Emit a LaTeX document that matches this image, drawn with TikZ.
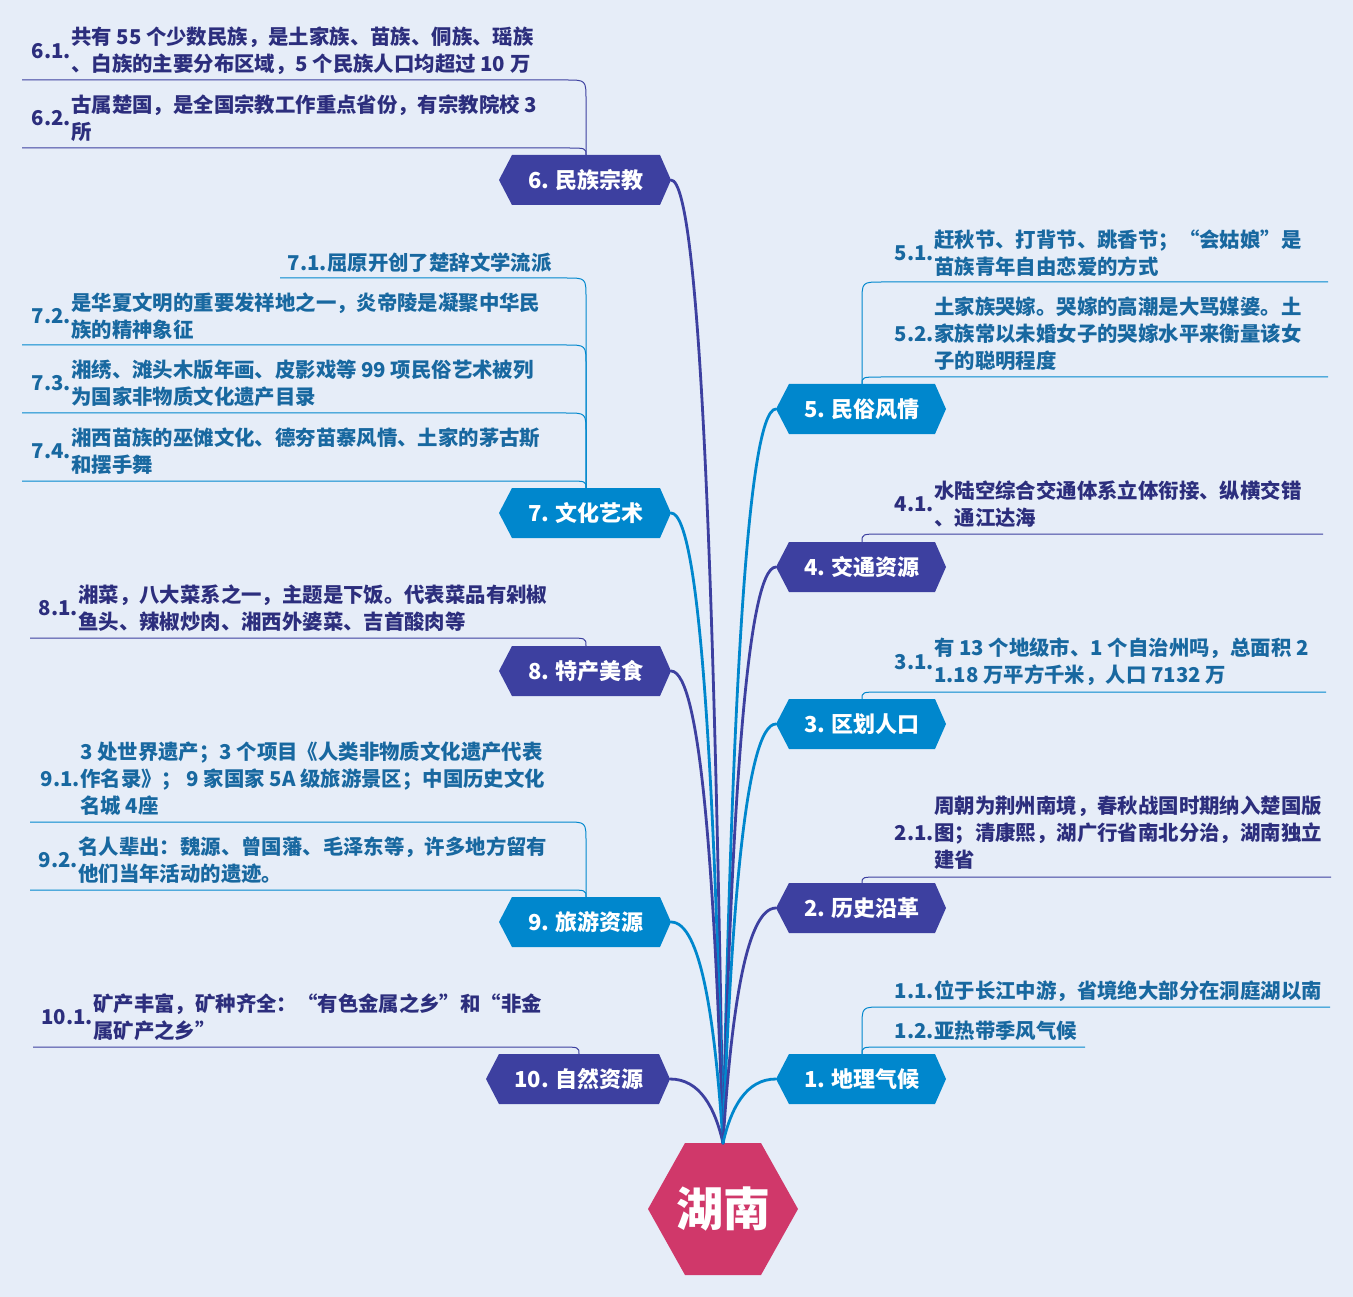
\documentclass[tikz,border=0pt]{standalone}
\usepackage{fontspec}
\setmainfont{Noto Sans CJK SC}
\usetikzlibrary{calc}
\pgfdeclarelayer{bgl}
\pgfsetlayers{bgl,main}
\definecolor{bgc}{RGB}{230,237,248}
\definecolor{dkc}{RGB}{61,64,160}
\definecolor{blc}{RGB}{0,135,205}
\definecolor{dkt}{RGB}{44,46,125}
\definecolor{blt}{RGB}{24,104,160}
\definecolor{pkc}{RGB}{208,56,106}
\tikzset{
  topic/.style={minimum height=50pt, inner sep=0pt, outer sep=0pt, text=white, font={\bfseries\fontsize{22}{26}\selectfont}},
  lbl/.style={inner sep=0pt, anchor=east, font={\bfseries\fontsize{20.4}{27}\selectfont}},
  body/.style={inner sep=0pt, anchor=west, align=left, font={\bfseries\fontsize{20.4}{27}\selectfont}},
  sd/.style={draw=dkc, line width=1pt},
  sb/.style={draw=blc, line width=1pt},
  cd/.style={draw=dkc, line width=2.8pt, line cap=round},
  cb/.style={draw=blc, line width=2.8pt, line cap=round},
}
\newcommand\topicnode[6]{%
  \node[topic, minimum width=#4pt] (#1) at (#2,#3) {#6};
  \coordinate (#1L) at ($(#1.west)+(-13,0)$);
  \coordinate (#1R) at ($(#1.east)+(11,0)$);
  \begin{pgfonlayer}{bgl}
  \fill[#5] (#1L) -- (#1.north west) -- (#1.north east) -- (#1R) -- (#1.south east) -- (#1.south west) -- cycle;
  \end{pgfonlayer}}
\newcommand\subtext[6]{%
  \node[lbl, text=#6] (#1n) at (#2,#3) {#4};
  \node[body, text=#6] (#1) at (#2,#3) {#5};}
\newcommand\subLl[3]{\draw[#1] (#2.north) -- ($(#2.north |- #3)+(0,20)$) .. controls (#2.north |- #3) .. ($(#2.north |- #3)+(-20,0)$) -- (#3);}
\newcommand\subLs[3]{\draw[#1] (#2.north) .. controls (#2.north |- #3) .. ($(#2.north |- #3)+(-20,0)$) -- (#3);}
\newcommand\subRl[3]{\draw[#1] (#2.north) -- ($(#2.north |- #3)+(0,20)$) .. controls (#2.north |- #3) .. ($(#2.north |- #3)+(20,0)$) -- (#3);}
\newcommand\subRs[3]{\draw[#1] (#2.north) .. controls (#2.north |- #3) .. ($(#2.north |- #3)+(20,0)$) -- (#3);}
\begin{document}
\begin{tikzpicture}[x=1pt, y=-1pt]
\useasboundingbox (0,0) rectangle (1353,1297);
\begin{pgfonlayer}{bgl}
\fill[bgc] (0,0) rectangle (1353,1297);
\end{pgfonlayer}

% centre
\node[inner sep=0pt, outer sep=0pt, minimum width=150pt, minimum height=132pt, text=white, font={\bfseries\fontsize{47}{50}\selectfont}] (c) at (723,1209) {湖南};
\begin{pgfonlayer}{bgl}
\fill[pkc] (c.west) -- ($(c.north west)+(37,0)$) -- ($(c.north east)+(-37,0)$) -- (c.east) -- ($(c.south east)+(-37,0)$) -- ($(c.south west)+(37,0)$) -- cycle;
\end{pgfonlayer}

% topics
\topicnode{n6}{586}{180}{148}{dkc}{6. 民族宗教}
\topicnode{n7}{586}{513}{148}{blc}{7. 文化艺术}
\topicnode{n8}{586}{671}{148}{dkc}{8. 特产美食}
\topicnode{n9}{586}{922}{148}{blc}{9. 旅游资源}
\topicnode{n10}{579}{1079}{160}{dkc}{10. 自然资源}
\topicnode{n5}{862}{409}{146}{blc}{5. 民俗风情}
\topicnode{n4}{862}{567}{146}{dkc}{4. 交通资源}
\topicnode{n3}{862}{724}{146}{blc}{3. 区划人口}
\topicnode{n2}{862}{908}{146}{dkc}{2. 历史沿革}
\topicnode{n1}{862}{1079}{146}{blc}{1. 地理气候}

% main connectors
\draw[cd] (n6R) .. controls +(30,0) and +(-8,-530) .. (c.north);
\draw[cb] (n7R) .. controls +(30,0) and +(-8,-346) .. (c.north);
\draw[cd] (n8R) .. controls +(30,0) and +(-8,-260) .. (c.north);
\draw[cb] (n9R) .. controls +(30,0) and +(-8,-122) .. (c.north);
\draw[cd] (n10R) .. controls +(30,0) and +(-8,-35) .. (c.north);
\draw[cb] (n5L) .. controls +(-30,0) and +(8,-404) .. (c.north);
\draw[cd] (n4L) .. controls +(-30,0) and +(8,-317) .. (c.north);
\draw[cb] (n3L) .. controls +(-30,0) and +(8,-230) .. (c.north);
\draw[cd] (n2L) .. controls +(-30,0) and +(8,-129) .. (c.north);
\draw[cb] (n1L) .. controls +(-30,0) and +(8,-35) .. (c.north);

% subtopic texts
\subtext{t61}{71}{51}{6.1.}{共有 55 个少数民族，是土家族、苗族、侗族、瑶族\\、白族的主要分布区域，5 个民族人口均超过 10 万}{dkt}
\subtext{t62}{71}{118}{6.2.}{古属楚国，是全国宗教工作重点省份，有宗教院校 3\\所}{dkt}
\subtext{t71}{327}{263}{7.1.}{屈原开创了楚辞文学流派}{blt}
\subtext{t72}{71}{316}{7.2.}{是华夏文明的重要发祥地之一，炎帝陵是凝聚中华民\\族的精神象征}{blt}
\subtext{t73}{71}{383}{7.3.}{湘绣、滩头木版年画、皮影戏等 99 项民俗艺术被列\\为国家非物质文化遗产目录}{blt}
\subtext{t74}{71}{451}{7.4.}{湘西苗族的巫傩文化、德夯苗寨风情、土家的茅古斯\\和摆手舞}{blt}
\subtext{t81}{78}{608}{8.1.}{湘菜，八大菜系之一，主题是下饭。代表菜品有剁椒\\鱼头、辣椒炒肉、湘西外婆菜、吉首酸肉等}{dkt}
\subtext{t91}{80}{779}{9.1.}{3 处世界遗产；3 个项目《人类非物质文化遗产代表\\作名录》； 9 家国家 5A 级旅游景区；中国历史文化\\名城 4座}{blt}
\subtext{t92}{78}{860}{9.2.}{名人辈出：魏源、曾国藩、毛泽东等，许多地方留有\\他们当年活动的遗迹。}{blt}
\subtext{t101}{93}{1017}{10.1.}{矿产丰富，矿种齐全：“有色金属之乡”和“非金\\属矿产之乡”}{dkt}
\subtext{t51}{934}{253}{5.1.}{赶秋节、打背节、跳香节；“会姑娘”是\\苗族青年自由恋爱的方式}{blt}
\subtext{t52}{934}{334}{5.2.}{土家族哭嫁。哭嫁的高潮是大骂媒婆。土\\家族常以未婚女子的哭嫁水平来衡量该女\\子的聪明程度}{blt}
\subtext{t41}{934}{504}{4.1.}{水陆空综合交通体系立体衔接、纵横交错\\、通江达海}{dkt}
\subtext{t31}{934}{662}{3.1.}{有 13 个地级市、1 个自治州吗，总面积 2\\1.18 万平方千米，人口 7132 万}{blt}
\subtext{t21}{934}{833}{2.1.}{周朝为荆州南境，春秋战国时期纳入楚国版\\图；清康熙，湖广行省南北分治，湖南独立\\建省}{dkt}
\subtext{t11}{934}{991}{1.1.}{位于长江中游，省境绝大部分在洞庭湖以南}{blt}
\subtext{t12}{934}{1031}{1.2.}{亚热带季风气候}{blt}

% underline ends
\coordinate (l61) at (22,80);
\coordinate (l62) at (22,148);
\coordinate (l71) at (280,278);
\coordinate (l72) at (22,345);
\coordinate (l73) at (22,413);
\coordinate (l74) at (22,481);
\coordinate (l81) at (30,638);
\coordinate (l91) at (30,822);
\coordinate (l92) at (30,890);
\coordinate (l101) at (33,1047);
\coordinate (l51) at (1328,282);
\coordinate (l52) at (1328,377);
\coordinate (l41) at (1323,534);
\coordinate (l31) at (1326,692);
\coordinate (l21) at (1331,877);
\coordinate (l11) at (1330,1007);
\coordinate (l12) at (1085,1047);

% subtopic connectors
\subLl{sd}{n6}{l61}
\subLs{sd}{n6}{l62}
\subLl{sb}{n7}{l71}
\subLl{sb}{n7}{l72}
\subLl{sb}{n7}{l73}
\subLs{sb}{n7}{l74}
\subLs{sd}{n8}{l81}
\subLl{sb}{n9}{l91}
\subLs{sb}{n9}{l92}
\subLs{sd}{n10}{l101}
\subRl{sb}{n5}{l51}
\subRs{sb}{n5}{l52}
\subRs{sd}{n4}{l41}
\subRs{sb}{n3}{l31}
\subRs{sd}{n2}{l21}
\subRl{sb}{n1}{l11}
\subRs{sb}{n1}{l12}
\end{tikzpicture}
\end{document}
